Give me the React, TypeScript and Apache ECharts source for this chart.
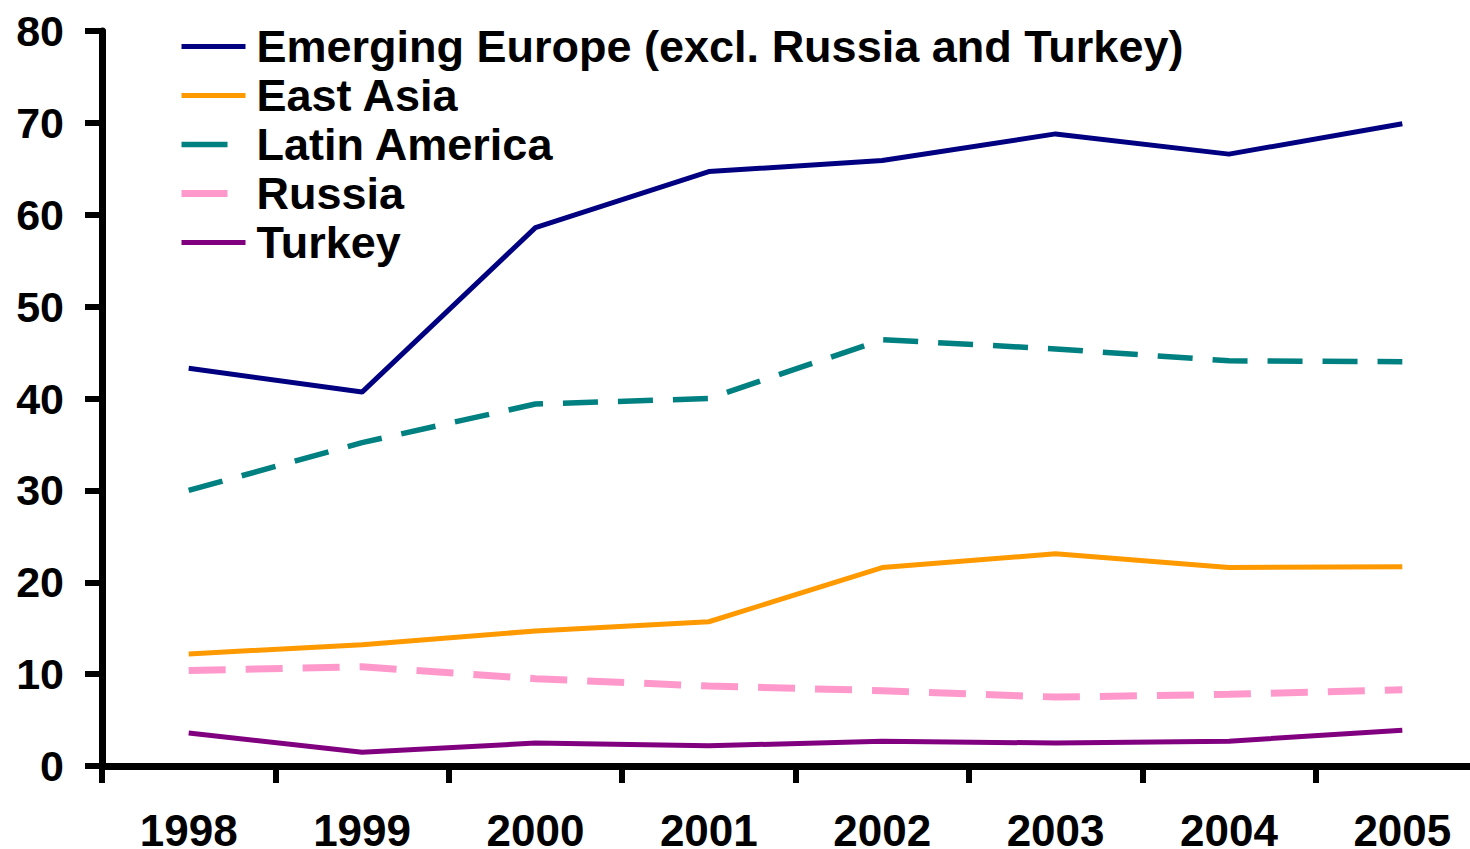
import React, { useEffect, useRef } from "react";
import * as echarts from "echarts";

const years = ["1998", "1999", "2000", "2001", "2002", "2003", "2004", "2005"];
const emergingEurope = [43.3, 40.7, 58.6, 64.7, 65.9, 68.8, 66.6, 69.9];
const eastAsia = [12.2, 13.2, 14.7, 15.7, 21.6, 23.1, 21.6, 21.7];
const latinAmerica = [30.0, 35.2, 39.4, 40.0, 46.4, 45.4, 44.1, 44.0];
const russia = [10.4, 10.8, 9.5, 8.7, 8.2, 7.5, 7.8, 8.3];
const turkey = [3.6, 1.5, 2.5, 2.2, 2.7, 2.5, 2.7, 3.9];

const seriesNames = [
  "Emerging Europe (excl. Russia and Turkey)",
  "East Asia",
  "Latin America",
  "Russia",
  "Turkey",
];
const colors = ["#000080", "#FF9900", "#008080", "#FF99CC", "#800080"];
const widths = [5, 5, 5.5, 7, 5];

const FONT = "'Liberation Sans', Arial, sans-serif";

export default function App() {
  const ref = useRef<HTMLDivElement>(null);
  useEffect(() => {
    if (!ref.current) return;
    const chart = echarts.init(ref.current, undefined, { renderer: "svg" });
    const mk = (i: number, data: number[], type: any) => ({
      name: seriesNames[i],
      type: "line",
      data,
      symbol: "none",
      lineStyle: { color: colors[i], width: widths[i], type },
      itemStyle: { color: colors[i] },
    });
    const legendItem = (i: number, type: any) => ({
      name: seriesNames[i],
      lineStyle: { width: widths[i], color: colors[i], type },
      itemStyle: { color: "rgba(0,0,0,0)", opacity: 0, borderWidth: 0 },
    });
    chart.setOption({
      animation: false,
      backgroundColor: "#ffffff",
      textStyle: { fontFamily: FONT },
      grid: {
        left: 102,
        top: 31,
        width: 1387,
        height: 735,
        containLabel: false,
        outerBoundsMode: "none",
      },
      legend: {
        orient: "vertical",
        left: 178,
        top: 24,
        itemWidth: 64,
        itemHeight: 10,
        itemGap: 4,
        padding: 0,
        itemStyle: { color: "rgba(0,0,0,0)", opacity: 0, borderWidth: 0 },
        textStyle: {
          fontFamily: FONT,
          fontSize: 45,
          fontWeight: "bold",
          color: "#000",
          lineHeight: 45,
          padding: [0, 0, 0, 6],
        },
        data: [
          legendItem(0, "solid"),
          legendItem(1, "solid"),
          legendItem(2, [46, 300]),
          legendItem(3, [46, 300]),
          legendItem(4, "solid"),
        ],
      },
      xAxis: {
        type: "category",
        data: years,
        boundaryGap: true,
        axisLine: { lineStyle: { color: "#000", width: 7 } },
        axisTick: { show: true, length: 17, lineStyle: { color: "#000", width: 6 } },
        axisLabel: {
          fontFamily: FONT,
          fontSize: 44,
          fontWeight: "bold",
          color: "#000",
          margin: 42,
        },
        splitLine: { show: false },
      },
      yAxis: {
        type: "value",
        min: 0,
        max: 80,
        interval: 10,
        axisLine: { show: true, lineStyle: { color: "#000", width: 7 } },
        axisTick: { show: true, length: 17, lineStyle: { color: "#000", width: 6 } },
        axisLabel: {
          fontFamily: FONT,
          fontSize: 43,
          fontWeight: "bold",
          color: "#000",
          margin: 38,
        },
        splitLine: { show: false },
      },
      series: [
        mk(0, emergingEurope, "solid"),
        mk(1, eastAsia, "solid"),
        mk(2, latinAmerica, [35, 20]),
        mk(3, russia, [37, 20]),
        mk(4, turkey, "solid"),
      ],
    });
    return () => chart.dispose();
  }, []);
  return (
    <div
      style={{
        position: "absolute",
        left: 0,
        top: 0,
        width: 1470,
        height: 849,
        overflow: "hidden",
      }}
    >
      <div ref={ref} style={{ width: 1500, height: 849 }} />
    </div>
  );
}
